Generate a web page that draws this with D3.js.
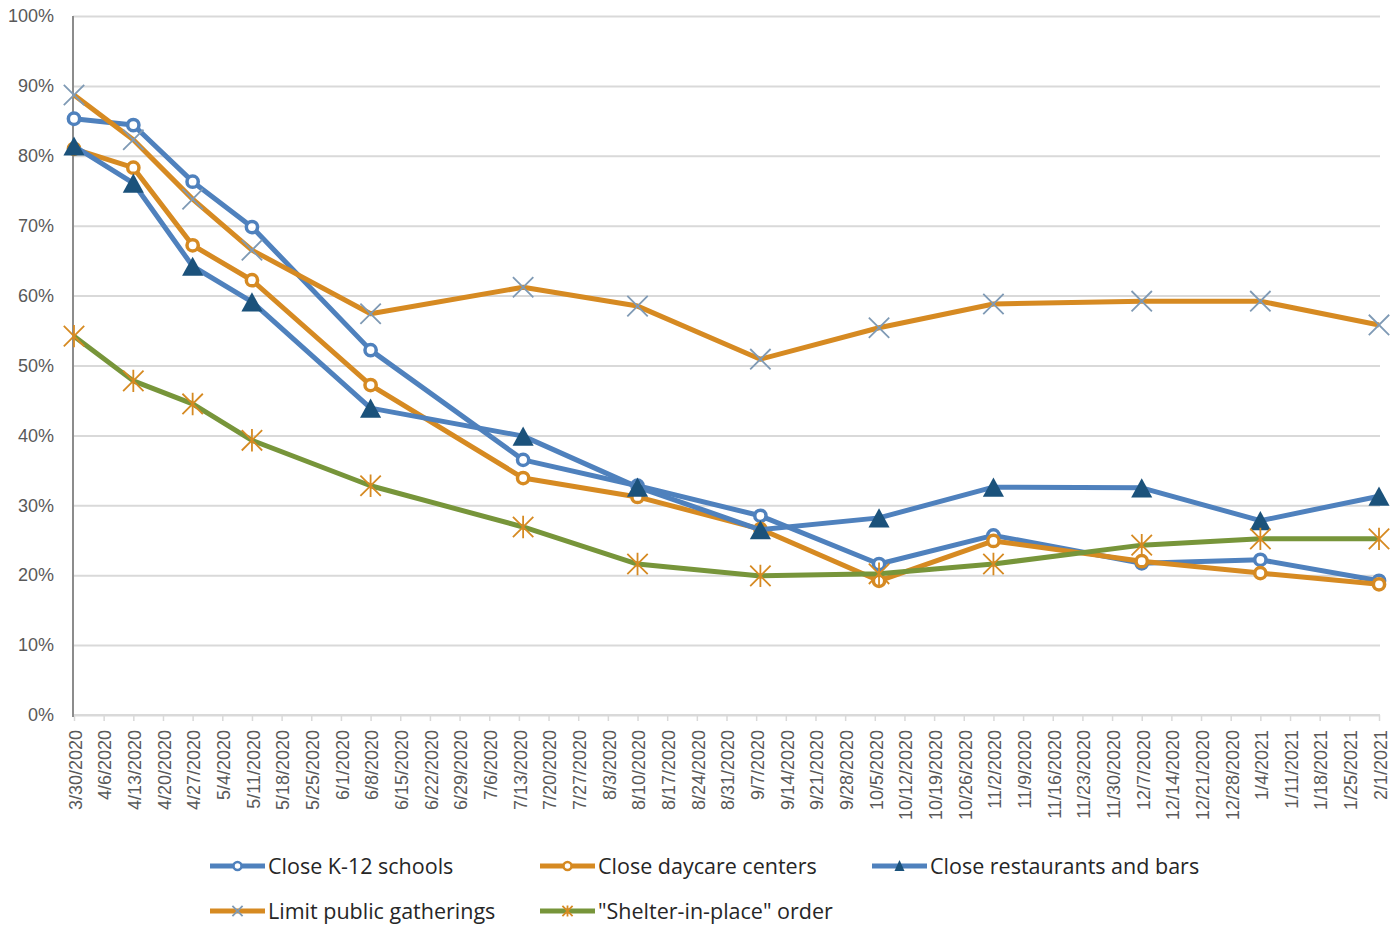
<!DOCTYPE html>
<html>
<head>
<meta charset="utf-8">
<script src="https://cdn.jsdelivr.net/npm/d3@7"></script>
<style>
  body { margin: 0; background: #fff; }
  svg { display: block; font-family: "Open Sans", "Noto Sans", sans-serif; }
</style>
</head>
<body>
<div id="chart"></div>
<script>
// Date axis with weekly ticks, 3/30/2020 .. 2/1/2021. Survey waves land on
// their own dates (a few are a day after the Monday tick).
const weeks = [
  "3/30/2020", "4/6/2020", "4/13/2020", "4/20/2020", "4/27/2020", "5/4/2020",
  "5/11/2020", "5/18/2020", "5/25/2020", "6/1/2020", "6/8/2020", "6/15/2020",
  "6/22/2020", "6/29/2020", "7/6/2020", "7/13/2020", "7/20/2020", "7/27/2020",
  "8/3/2020", "8/10/2020", "8/17/2020", "8/24/2020", "8/31/2020", "9/7/2020",
  "9/14/2020", "9/21/2020", "9/28/2020", "10/5/2020", "10/12/2020", "10/19/2020",
  "10/26/2020", "11/2/2020", "11/9/2020", "11/16/2020", "11/23/2020", "11/30/2020",
  "12/7/2020", "12/14/2020", "12/21/2020", "12/28/2020", "1/4/2021", "1/11/2021",
  "1/18/2021", "1/25/2021", "2/1/2021"
];
const surveyDates = [
  "3/30/2020", "4/13/2020", "4/27/2020", "5/11/2020", "6/8/2020", "7/14/2020",
  "8/10/2020", "9/8/2020", "10/6/2020", "11/2/2020", "12/7/2020", "1/4/2021", "2/1/2021"
];
const closeSchools     = [85.3, 84.4, 76.3, 69.8, 52.2, 36.5, 32.8, 28.5, 21.6, 25.7, 21.7, 22.2, 19.2];
const closeDaycare     = [81.0, 78.3, 67.2, 62.2, 47.2, 33.9, 31.2, 26.6, 19.2, 24.9, 22.0, 20.3, 18.7];
const closeRestaurants = [81.4, 76.1, 64.2, 59.1, 43.9, 39.9, 32.6, 26.5, 28.2, 32.6, 32.5, 27.8, 31.3];
const limitGatherings  = [88.7, 82.3, 73.8, 66.5, 57.4, 61.2, 58.5, 50.9, 55.4, 58.8, 59.2, 59.2, 55.8];
const shelterInPlace   = [54.2, 47.8, 44.5, 39.3, 32.8, 26.9, 21.6, 19.9, 20.2, 21.6, 24.3, 25.2, 25.2];
const yTicks = [0, 10, 20, 30, 40, 50, 60, 70, 80, 90, 100];

const BLUE = "#4f81bd", ORANGE = "#d68a22", GREEN = "#77953a",
      NAVY = "#1b527b", XGRAY = "#7f9ab5";

const series = [
  { name: "Close K-12 schools", values: closeSchools, line: BLUE, marker: "circle", mcolor: BLUE },
  { name: "Close daycare centers", values: closeDaycare, line: ORANGE, marker: "circle", mcolor: ORANGE },
  { name: "Close restaurants and bars", values: closeRestaurants, line: BLUE, marker: "triangle", mcolor: NAVY },
  { name: "Limit public gatherings", values: limitGatherings, line: ORANGE, marker: "x", mcolor: XGRAY },
  { name: "\"Shelter-in-place\" order", values: shelterInPlace, line: GREEN, marker: "star", mcolor: ORANGE }
];

const parse = d3.utcParse("%m/%d/%Y");
const fmt = d => `${d.getUTCMonth() + 1}/${d.getUTCDate()}/${d.getUTCFullYear()}`;
const tickDates = weeks.map(parse);

const W = 1399, H = 926;
const margin = { top: 16, right: 20, bottom: 211, left: 74 };

const svg = d3.select("#chart").append("svg").attr("width", W).attr("height", H);

const x = d3.scaleUtc().domain([tickDates[0], tickDates[tickDates.length - 1]]).range([margin.left, W - margin.right]);
const y = d3.scaleLinear().domain([0, 100]).range([H - margin.bottom, margin.top]);

// gridlines + y labels
svg.append("g")
  .attr("transform", `translate(${margin.left - 1},0)`)
  .call(d3.axisLeft(y).tickValues(yTicks).tickFormat(d => d + "%").tickSize(-(W - margin.left - margin.right + 2)).tickPadding(19))
  .call(g => g.select(".domain").remove())
  .call(g => g.selectAll(".tick line").attr("stroke", "#d9d9d9").attr("stroke-width", 2))
  .call(g => g.selectAll(".tick text").attr("fill", "#595959").attr("font-size", 18));

// x axis
svg.append("g")
  .attr("transform", `translate(0,${y(0)})`)
  .call(d3.axisBottom(x).tickValues(tickDates).tickFormat(fmt).tickSize(6).tickPadding(0))
  .call(g => g.select(".domain").attr("stroke", "#d9d9d9").attr("stroke-width", 2).attr("d", `M${margin.left - 1},0H${W - margin.right + 1}`))
  .call(g => g.selectAll(".tick line").attr("stroke", "#d9d9d9").attr("stroke-width", 1.5))
  .call(g => g.selectAll(".tick text")
    .attr("fill", "#595959").attr("font-size", 18)
    .attr("text-anchor", "end").attr("dy", "0.35em")
    .attr("transform", "translate(1,15) rotate(-90)").attr("x", 0).attr("y", 0));

// y axis line
svg.append("line")
  .attr("x1", margin.left - 1).attr("x2", margin.left - 1)
  .attr("y1", y(100)).attr("y2", y(0) + 2)
  .attr("stroke", "#8c8c8c").attr("stroke-width", 2);

const line = d3.line().x(d => x(d[0])).y(d => y(d[1]));

function drawMarker(g, type, color, size) {
  if (type === "circle") {
    g.append("circle").attr("r", size * 0.47).attr("fill", "#fff").attr("stroke", color).attr("stroke-width", 3.5);
  } else if (type === "triangle") {
    const w = size * 0.88, h = size * 0.8;
    g.append("path").attr("d", `M0,${-h}L${w},${h}L${-w},${h}Z`).attr("fill", color);
  } else if (type === "x") {
    const s = size * 0.85;
    g.append("path").attr("d", `M${-s},${-s}L${s},${s}M${-s},${s}L${s},${-s}`).attr("stroke", color).attr("stroke-width", 1.8);
  } else if (type === "star") {
    const s = size * 0.85;
    g.append("path").attr("d", `M${-s},${-s}L${s},${s}M${-s},${s}L${s},${-s}M0,${-s * 1.1}V${s * 1.1}`).attr("stroke", color).attr("stroke-width", 1.8);
  }
}

const plot = svg.append("g");
series.forEach(s => {
  const pts = surveyDates.map((d, i) => [parse(d), s.values[i]]);
  plot.append("path").datum(pts).attr("d", line)
    .attr("fill", "none").attr("stroke", s.line).attr("stroke-width", 5).attr("stroke-linejoin", "round");
  pts.forEach(p => {
    const g = plot.append("g").attr("transform", `translate(${x(p[0])},${y(p[1])})`);
    drawMarker(g, s.marker, s.mcolor, 12);
  });
});

// legend
const legendPos = [[210, 866], [540, 866], [872, 866], [210, 911], [540, 911]];
series.forEach((s, i) => {
  const [lx, ly] = legendPos[i];
  const g = svg.append("g").attr("transform", `translate(${lx},${ly})`);
  g.append("line").attr("x1", 0).attr("x2", 55).attr("stroke", s.line).attr("stroke-width", 5);
  const m = g.append("g").attr("transform", "translate(27.5,0)");
  if (s.marker === "circle") {
    m.append("circle").attr("r", 4).attr("fill", "#fff").attr("stroke", s.mcolor).attr("stroke-width", 2.5);
  } else if (s.marker === "triangle") {
    m.append("path").attr("d", "M0,-6L5,5L-5,5Z").attr("fill", s.mcolor);
  } else {
    drawMarker(m, s.marker, s.mcolor, 6);
  }
  g.append("text").attr("x", 58).attr("y", 0).attr("dy", "0.35em")
    .attr("font-size", 21.5).attr("fill", "#262626").text(s.name);
});
</script>
</body>
</html>
